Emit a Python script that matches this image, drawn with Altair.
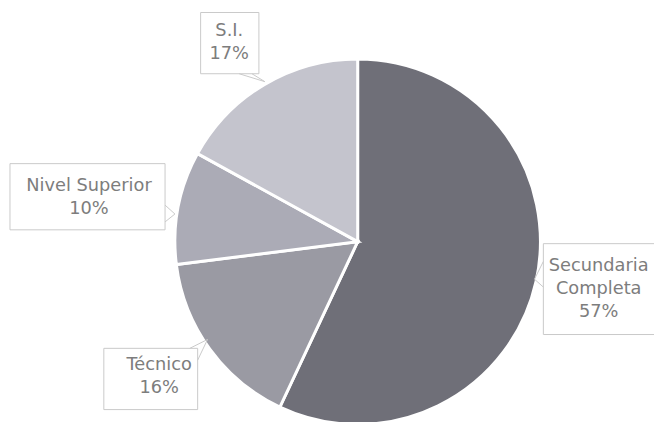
import altair as alt
import pandas as pd

# ---- data ----
categories = ["Secundaria Completa", "Técnico", "Nivel Superior", "S.I."]
values = [57, 16, 10, 17]
label_names = [["Secundaria", "Completa"], ["Técnico"], ["Nivel Superior"], ["S.I."]]

# ---- style / layout (chart pixel coordinates, page offset 8px) ----
colors = ["#6f6f78", "#9a9aa3", "#ababb6", "#c4c4cd"]
CX, CY, R = 354, 234, 185
OFF = 8
# box: x0, y0, x1, y1 (page coords) ; text centre x, first-line centre y
boxes = {
    "Secundaria Completa": (550, 244, 672, 336, 606, 267),
    "Técnico": (105, 350, 200, 412, 161, 367),
    "Nivel Superior": (10, 163, 167, 230, 90, 186),
    "S.I.": (203, 10, 262, 72, 232, 29),
}
pointers = {
    "Secundaria Completa": [(550, 262), (541, 280), (550, 288)],
    "Técnico": [(192, 350), (210, 341), (200, 362)],
    "Nivel Superior": [(167, 205), (177, 214), (167, 222)],
    "S.I.": [(242, 72), (268, 80), (255, 72)],
}

pie_df = pd.DataFrame({"cat": categories, "value": values, "idx": list(range(len(categories)))})

box_rows, text_rows, ptr_rows = [], [], []
for cat, v, names in zip(categories, values, label_names):
    x0, y0, x1, y1, tx, ty = boxes[cat]
    box_rows.append({"cat": cat, "x0": x0 - OFF, "y0": y0 - OFF, "x1": x1 - OFF, "y1": y1 - OFF})
    text_rows.append({"cat": cat, "tx": tx - OFF, "ty": ty - OFF, "txt": "\n".join(names + [f"{v}%"])})
    for i, (px, py) in enumerate(pointers[cat]):
        ptr_rows.append({"cat": cat, "o": i, "px": px - OFF, "py": py - OFF})

box_df = pd.DataFrame(box_rows)
text_df = pd.DataFrame(text_rows)
ptr_df = pd.DataFrame(ptr_rows)

pie = alt.Chart(pie_df).mark_arc(radius=R, stroke="white", strokeWidth=3).encode(
    theta=alt.Theta("value:Q", stack=True),
    color=alt.Color("cat:N", scale=alt.Scale(domain=categories, range=colors), legend=None),
    order=alt.Order("idx:Q"),
    x=alt.value(CX),
    y=alt.value(CY),
)

box = alt.Chart(box_df).mark_rect(fill="white", stroke="#c9c9c9", strokeWidth=1).encode(
    x=alt.X("x0:Q", scale=None), x2="x1:Q",
    y=alt.Y("y0:Q", scale=None), y2="y1:Q",
)

ptr = alt.Chart(ptr_df).mark_line(color="#c9c9c9", strokeWidth=1).encode(
    x=alt.X("px:Q", scale=None),
    y=alt.Y("py:Q", scale=None),
    detail="cat:N",
    order="o:Q",
)

txt = alt.Chart(text_df).mark_text(
    font="DejaVu Sans", fontSize=18, color="#7d7d7d", lineBreak="\n", lineHeight=23,
    align="center", baseline="middle",
).encode(
    x=alt.X("tx:Q", scale=None),
    y=alt.Y("ty:Q", scale=None),
    text="txt:N",
)

chart = alt.layer(pie, box, ptr, txt).properties(
    width=654, height=414, padding=0, autosize="none", background="white"
).configure_view(stroke=None)

chart.save("out.html", embed_options={"renderer": "svg", "actions": False})
